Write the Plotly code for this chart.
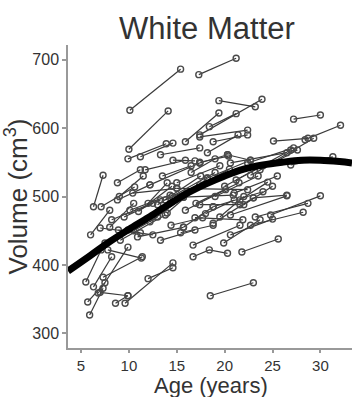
import plotly.graph_objects as go

# Longitudinal subjects: ages (years) and white matter volume (cm3)
subj_age = [
    [10.1, 15.4], [17.3, 21.2], [10.0, 14.1], [19.4, 23.2], [17.4, 23.9],
    [15.9, 19.4], [27.2, 30.0], [18.4, 21.2], [17.4, 22.4], [28.4, 32.1],
    [25.1, 28.7], [9.9, 13.9], [6.3, 7.3], [14.6, 16.9], [17.4, 20.4],
    [18.2, 21.4], [21.2, 26.9], [22.7, 27.6], [26.9, 31.3], [20.6, 26.5],
    [23.2, 28.7], [22.7, 28.2], [20.6, 25.0], [21.8, 25.6], [24.8, 30.0],
    [19.9, 23.7], [16.7, 18.4, 20.3], [9.6, 14.6], [12.0, 14.6], [18.5, 23.0],
    [15.4, 18.8], [14.4, 17.7], [16.9, 21.9], [5.5, 7.1], [5.9, 7.3],
    [5.7, 7.5], [7.0, 9.9], [8.6, 9.9], [6.3, 8.2], [6.8, 9.9],
    [7.3, 11.4], [7.8, 11.3], [7.0, 11.2], [8.9, 12.5], [8.2, 13.3],
    [7.1, 10.6], [8.8, 11.2], [6.0, 8.0], [7.5, 9.9], [9.1, 13.8],
    [10.1, 14.3], [11.2, 14.6], [13.3, 17.4], [18.8, 22.4], [20.3, 22.7],
    [20.6, 26.5], [22.4, 27.2], [23.7, 29.3], [21.6, 24.5], [23.0, 26.5],
    [18.8, 24.0], [18.8, 23.0], [16.7, 21.6], [12.2, 15.7], [14.0, 18.2],
    [10.9, 15.7], [12.2, 17.4], [10.4, 15.0], [8.8, 12.2], [11.7, 15.9],
    [15.7, 20.9], [15.0, 22.4], [17.4, 20.3], [18.2, 22.7], [15.7, 18.8],
    [13.3, 16.9], [17.4, 21.6], [15.9, 20.1], [13.8, 17.4],
    [11.0, 14.5], [12.5, 16.0], [13.0, 17.5], [14.5, 19.0], [16.0, 20.5],
    [17.0, 21.5], [19.0, 23.5], [20.0, 24.0], [21.0, 25.5], [9.5, 12.5],
    [10.5, 13.0], [12.0, 14.0], [15.0, 19.5], [18.0, 21.0], [19.5, 22.0],
    [22.0, 25.0], [9.0, 11.5], [8.0, 10.5], [13.5, 16.5], [16.5, 19.0],
]
subj_vol = [
    [626, 686], [678, 702], [569, 625], [640, 631], [590, 642],
    [580, 622], [613, 619], [602, 621], [587, 597], [583, 604],
    [581, 585], [555, 577], [485, 531], [553, 552], [550, 559],
    [564, 590], [524, 568], [531, 568], [546, 558], [473, 501],
    [470, 490], [458, 477], [444, 467], [419, 438], [473, 501],
    [432, 466], [412, 422, 417], [344, 403], [380, 396], [355, 374],
    [447, 458], [458, 469], [469, 466], [375, 422], [327, 366],
    [346, 374], [360, 355], [344, 355], [368, 412], [359, 426],
    [382, 412], [422, 410], [454, 447], [451, 444], [466, 495],
    [485, 514], [520, 539], [444, 480], [432, 451], [436, 473],
    [480, 502], [558, 578], [561, 571], [580, 590], [561, 553],
    [549, 564], [549, 571], [539, 585], [495, 521], [498, 502],
    [485, 507], [461, 498], [429, 458], [463, 499], [476, 527],
    [441, 455], [517, 549], [505, 512], [495, 517], [539, 553],
    [499, 502], [512, 510], [549, 561], [527, 553], [455, 485],
    [436, 451], [488, 488], [480, 510], [495, 517],
    [478, 515], [470, 505], [488, 530], [500, 535], [505, 540],
    [490, 520], [500, 530], [515, 545], [505, 530], [470, 490],
    [450, 470], [490, 520], [520, 545], [475, 495], [470, 500],
    [488, 515], [500, 530], [455, 490], [530, 545], [535, 555],
]

# Group fit curve
fit_age = [3.64, 6, 8, 10, 12, 14, 16, 18, 20, 22, 24, 26, 28, 30, 32, 33.3]
fit_vol = [391, 414, 434, 452, 469, 487, 504, 518, 530, 540, 546, 550, 553, 553, 551, 549]

x_ticks = [5, 10, 15, 20, 25, 30]
y_ticks = [300, 400, 500, 600, 700]

xs, ys = [], []
for a, v in zip(subj_age, subj_vol):
    xs += a + [None]
    ys += v + [None]

fig = go.Figure()
fig.add_trace(go.Scatter(
    x=xs, y=ys, mode="lines+markers", connectgaps=False,
    line=dict(color="#3a3a3a", width=1.2),
    marker=dict(symbol="circle-open", size=6, color="#4a4a4a",
                line=dict(width=1.4, color="#4a4a4a")),
    hoverinfo="skip", showlegend=False,
))
fig.add_trace(go.Scatter(
    x=fit_age, y=fit_vol, mode="lines", line=dict(color="#000000", width=7, shape="spline"),
    hoverinfo="skip", showlegend=False,
))

font_family = "Liberation Sans, Arial, sans-serif"
fig.update_layout(
    width=352, height=397,
    margin=dict(l=68, r=0, t=45, b=49),
    paper_bgcolor="white", plot_bgcolor="white",
    font=dict(family=font_family, color="#333333"),
    title=dict(text="White Matter", x=0.588, xanchor="center",
               y=1 - 28 / 397, yref="container", yanchor="middle",
               font=dict(size=31, color="#333333", family=font_family)),
    xaxis=dict(range=[3.64, 33.3], tickvals=x_ticks, showgrid=False, zeroline=False,
               showline=True, linecolor="#999999", linewidth=1.5,
               ticks="outside", ticklen=3, tickcolor="#999999", tickwidth=1.5,
               tickfont=dict(size=15, color="#333333")),
    yaxis=dict(range=[278.7, 721.3], tickvals=y_ticks, showgrid=False, zeroline=False,
               showline=True, linecolor="#999999", linewidth=1.5,
               ticks="outside", ticklen=4, tickcolor="#999999", tickwidth=1.5,
               tickfont=dict(size=16, color="#333333"),
               title=dict(text="Volume (cm<sup>3</sup>)", standoff=2,
                          font=dict(size=26, color="#333333"))),
    annotations=[dict(text="Age (years)", xref="paper", yref="paper",
                      x=(211 - 68) / 284, y=(348 - 385) / 303,
                      xanchor="center", yanchor="middle", showarrow=False,
                      font=dict(size=22, color="#333333", family=font_family))],
)

fig.write_html("out.html")
